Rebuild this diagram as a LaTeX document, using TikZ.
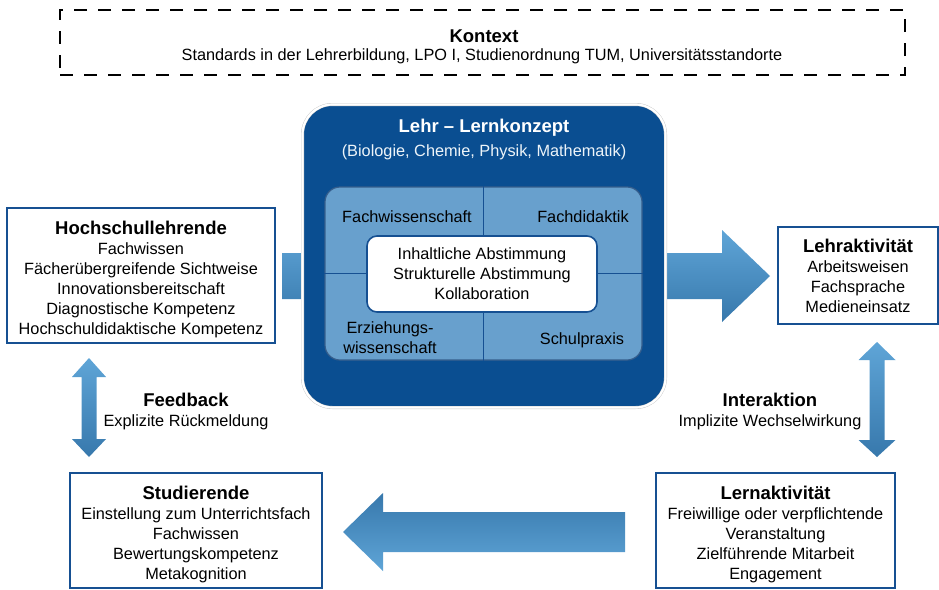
\documentclass[tikz,border=0pt]{standalone}
\usepackage{fontspec}
\setmainfont{Liberation Sans}
\usepackage{tikz}
\usetikzlibrary{positioning}
\definecolor{boxblue}{RGB}{22,80,146}
\definecolor{deepblue}{RGB}{10,78,145}
\definecolor{paleblue}{RGB}{104,160,205}
\definecolor{arrowlight}{RGB}{95,165,215}
\definecolor{arrowdark}{RGB}{55,120,172}
\newcommand{\txtfont}{\fontsize{16.3}{20}\selectfont}
\newcommand{\hdfont}{\fontsize{18.5}{20}\selectfont\bfseries}
\newcommand{\boxhd}[1]{\rule{0pt}{22pt}{\hdfont #1}} % title with a little more room above
\tikzset{x=1pt, y=-1pt,
every node/.style={ % Sets the text of all nodes
font=\txtfont,
align=center,
inner sep=0pt},
infobox/.style={ % white boxes with blue frame
draw=boxblue,
line width=1.6pt,
fill=white},
ctxbox/.style={ % dashed frame at the top
draw=black,
line width=2.2pt,
dash pattern=on 13pt off 11pt},
blockarrow/.style={ % shaded block arrows
top color=arrowlight,
bottom color=arrowdark}}

\begin{document}
\begin{tikzpicture}
\useasboundingbox (0,0) rectangle (939,589);
% context
\node[ctxbox, minimum width=845, minimum height=65] (ctx) at (482.5,42.5) {};
\node (ctxhd) at (484,36) {\hdfont Kontext};
\node (ctxtxt) at (482,56) {Standards in der Lehrerbildung, LPO I, Studienordnung TUM, Universitätsstandorte};
% big arrow behind the concept
\shade[blockarrow] (282,253) -- (722,253) -- (722,230) -- (770,276) -- (722,322) -- (722,299) -- (282,299) -- cycle;
% concept
\node[fill=deepblue, draw=gray!45, double=white, double distance=2.2pt, rounded corners=30, minimum width=363, minimum height=303] (konzept) at (484,256) {};
\node[text=white] (konzepthd) at (484,128) {\hdfont Lehr -- Lernkonzept};
\node[text=white!88!paleblue] (faecher) at (484,152) {(Biologie, Chemie, Physik, Mathematik)};
\node[fill=paleblue, draw=boxblue!70!gray, line width=1.2pt, rounded corners=15, minimum width=317, minimum height=173] (feld) at (483.5,273.5) {};
\draw[boxblue, line width=0.9pt] (feld.north) -- (feld.south);
\draw[boxblue, line width=0.9pt] (feld.west) -- (feld.east);
\node (fw) at (407,217) {Fachwissenschaft};
\node (fd) at (583,217) {Fachdidaktik};
\node (ew) at (390,338) {Erziehungs-\\wissenschaft};
\node (sp) at (582,340) {Schulpraxis};
\node[fill=white, draw=boxblue, line width=1.6pt, rounded corners=10, minimum width=230, minimum height=76] (abst) at (482,274) {Inhaltliche Abstimmung\\Strukturelle Abstimmung\\Kollaboration};
% actors
\node[infobox, minimum width=268, minimum height=135] (hsl) at (141,275.5) {\boxhd{Hochschullehrende}\\Fachwissen\\Fächerübergreifende Sichtweise\\Innovationsbereitschaft\\Diagnostische Kompetenz\\Hochschuldidaktische Kompetenz};
\node[infobox, minimum width=160, minimum height=97] (lehr) at (858,275.5) {{\hdfont Lehraktivität}\\Arbeitsweisen\\Fachsprache\\Medieneinsatz};
\node[infobox, minimum width=252, minimum height=115] (stud) at (196,530.5) {\boxhd{Studierende}\\Einstellung zum Unterrichtsfach\\Fachwissen\\Bewertungskompetenz\\Metakognition};
\node[infobox, minimum width=239, minimum height=115] (lern) at (775.5,530.5) {\boxhd{Lernaktivität}\\Freiwillige oder verpflichtende\\Veranstaltung\\Zielführende Mitarbeit\\Engagement};
% arrows between actors
\shade[top color=arrowdark, bottom color=arrowlight] (625,512) -- (383,512) -- (383,493) -- (343,532) -- (383,571) -- (383,552) -- (625,552) -- cycle;
\shade[blockarrow] (89,358) -- (106,377) -- (96.5,377) -- (96.5,439) -- (106,439) -- (89,457) -- (72,439) -- (81.5,439) -- (81.5,377) -- (72,377) -- cycle;
\shade[blockarrow] (877,342) -- (895.5,360) -- (884.5,360) -- (884.5,440) -- (895.5,440) -- (877,457) -- (858.5,440) -- (869.5,440) -- (869.5,360) -- (858.5,360) -- cycle;
\node (feedback) at (186,411) {{\hdfont Feedback}\\Explizite Rückmeldung};
\node (interaktion) at (770,411) {{\hdfont Interaktion}\\Implizite Wechselwirkung};
\end{tikzpicture}
\end{document}
